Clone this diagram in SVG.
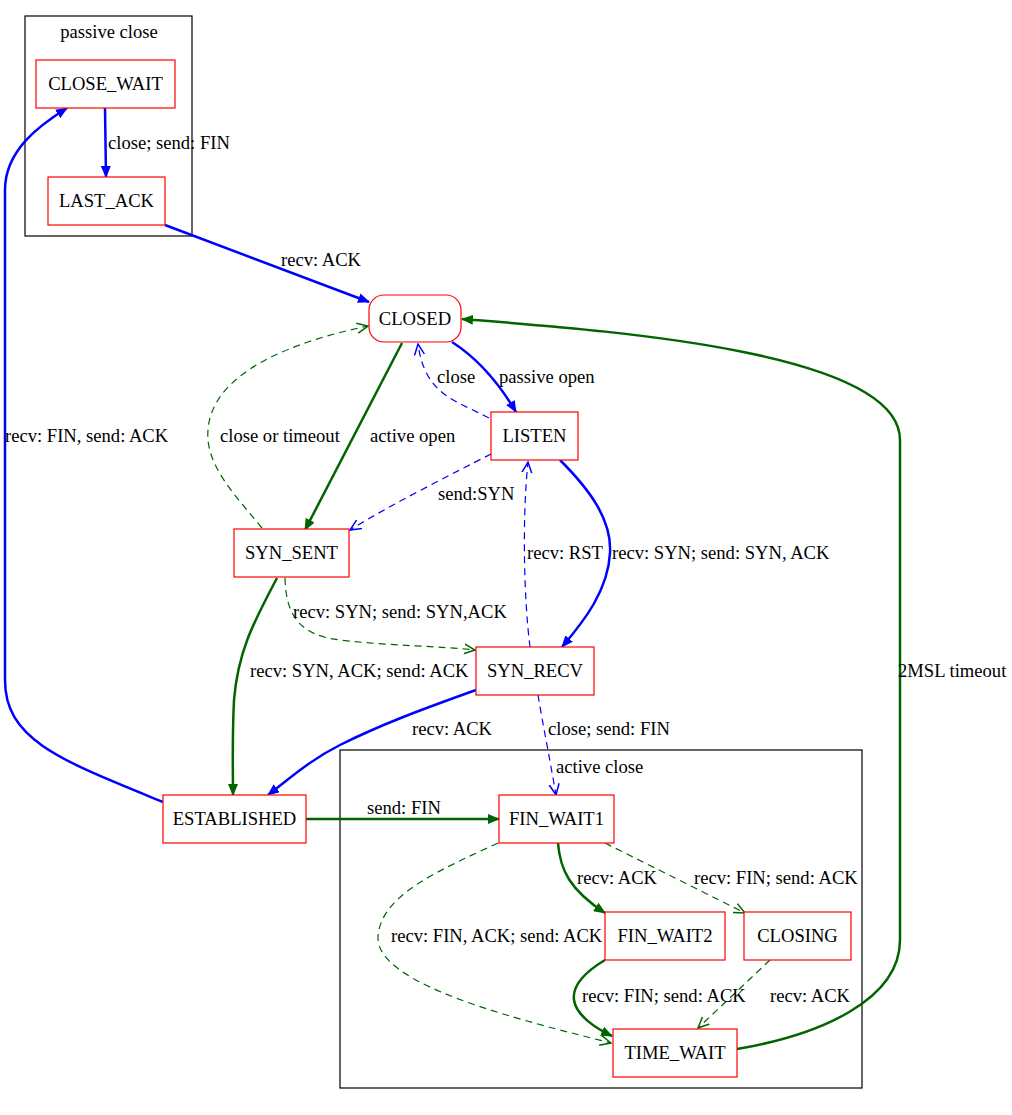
<svg xmlns="http://www.w3.org/2000/svg" width="1012" height="1115" viewBox="0 0 1012 1115" font-family="'Liberation Serif', 'Times New Roman', Times, serif">
<style>
text{font-family:"Liberation Serif","Times New Roman",Times,serif;font-size:18.6px;fill:#000}
.n{text-anchor:middle}
.node rect{fill:#fff;stroke:#ff0000;stroke-width:1.2}
.cl{fill:none;stroke:#000;stroke-width:1.2}
.e{fill:none}
.bb{stroke:#0000ff;stroke-width:2.5}
.gb{stroke:#006400;stroke-width:2.5}
.bd{stroke:#0000ff;stroke-width:1.2;stroke-dasharray:7,5}
.gd{stroke:#006400;stroke-width:1.2;stroke-dasharray:7,5}
</style>
<defs>
<marker id="ab" viewBox="0 0 12 10" refX="11" refY="5" markerWidth="12" markerHeight="10" markerUnits="userSpaceOnUse" orient="auto"><path d="M0,0 L12,5 L0,10 z" fill="#0000ff"/></marker>
<marker id="ag" viewBox="0 0 12 10" refX="11" refY="5" markerWidth="12" markerHeight="10" markerUnits="userSpaceOnUse" orient="auto"><path d="M0,0 L12,5 L0,10 z" fill="#006400"/></marker>
<marker id="ob" viewBox="0 0 12 12" refX="11" refY="6" markerWidth="12" markerHeight="12" markerUnits="userSpaceOnUse" orient="auto"><path d="M0,1 L11,6 L0,11" fill="none" stroke="#0000ff" stroke-width="1.5"/></marker>
<marker id="og" viewBox="0 0 12 12" refX="11" refY="6" markerWidth="12" markerHeight="12" markerUnits="userSpaceOnUse" orient="auto"><path d="M0,1 L11,6 L0,11" fill="none" stroke="#006400" stroke-width="1.5"/></marker>
</defs>
<rect width="1012" height="1115" fill="#fff"/>
<g id="cluster_passive">
<rect class="cl" x="25" y="16" width="167" height="220"/>
<text class="n" x="109" y="38">passive close</text>
</g>
<g id="cluster_active">
<rect class="cl" x="340" y="750" width="522" height="338"/>
<text x="556" y="773">active close</text>
</g>
<g id="edges">
<path class="e bb" d="M105,108 L106,177" marker-end="url(#ab)"/>
<path class="e bb" d="M165,225 L369,302" marker-end="url(#ab)"/>
<path class="e bb" d="M163,802 C60,760 5,740 5,680 L5,190 C5,150 40,125 67,108" marker-end="url(#ab)"/>
<path class="e bb" d="M452,342 C480,360 500,385 516,412" marker-end="url(#ab)"/>
<path class="e bd" d="M489,418 C455,400 425,395 418,344" marker-end="url(#ob)"/>
<path class="e gb" d="M402,343 L305,530" marker-end="url(#ag)"/>
<path class="e gd" d="M262,528 C235,495 205,465 208,430 C212,370 300,340 368,326" marker-end="url(#og)"/>
<path class="e bd" d="M491,454 C450,475 390,505 350,530" marker-end="url(#ob)"/>
<path class="e bb" d="M560,460 C590,490 612,520 610,553 C608,590 585,620 562,647" marker-end="url(#ab)"/>
<path class="e bd" d="M530,647 C524,600 522,520 528,462" marker-end="url(#ob)"/>
<path class="e gd" d="M285,578 C286,610 295,635 340,640 C390,646 440,646 475,650" marker-end="url(#og)"/>
<path class="e gb" d="M277,578 C255,620 238,650 234,700 C232,740 233,770 233,795" marker-end="url(#ag)"/>
<path class="e bb" d="M476,690 C420,710 380,725 340,745 C310,760 290,778 268,795" marker-end="url(#ab)"/>
<path class="e bd" d="M538,695 C543,725 550,760 556,795" marker-end="url(#ob)"/>
<path class="e gb" d="M306,819 L499,819" marker-end="url(#ag)"/>
<path class="e gb" d="M558,843 C560,870 570,890 605,913" marker-end="url(#ag)"/>
<path class="e gd" d="M605,843 L745,913" marker-end="url(#og)"/>
<path class="e gd" d="M498,843 C440,870 380,895 378,937 C376,985 520,1020 611,1043" marker-end="url(#og)"/>
<path class="e gb" d="M605,960 C585,972 572,985 574,1000 C576,1015 595,1028 612,1036" marker-end="url(#ag)"/>
<path class="e gd" d="M770,960 L698,1028" marker-end="url(#og)"/>
<path class="e gb" d="M737,1049 C820,1035 900,1000 900,940 L900,440 C900,350 600,330 462,319" marker-end="url(#ag)"/>
</g>
<g id="edge_labels">
<text x="108" y="149">close; send: FIN</text>
<text x="281" y="266">recv: ACK</text>
<text x="5" y="442">recv: FIN, send: ACK</text>
<text x="499" y="383">passive open</text>
<text x="437" y="383">close</text>
<text x="370" y="442">active open</text>
<text x="220" y="442">close or timeout</text>
<text x="438" y="500">send:SYN</text>
<text x="527" y="559">recv: RST</text>
<text x="612" y="559">recv: SYN; send: SYN, ACK</text>
<text x="293" y="618">recv: SYN; send: SYN,ACK</text>
<text x="250" y="677">recv: SYN, ACK; send: ACK</text>
<text x="412" y="735">recv: ACK</text>
<text x="548" y="735">close; send: FIN</text>
<text x="367" y="814">send: FIN</text>
<text x="577" y="884">recv: ACK</text>
<text x="694" y="884">recv: FIN; send: ACK</text>
<text x="391" y="942">recv: FIN, ACK; send: ACK</text>
<text x="582" y="1002">recv: FIN; send: ACK</text>
<text x="770" y="1002">recv: ACK</text>
<text x="898" y="677">2MSL timeout</text>
</g>
<g id="CLOSE_WAIT" class="node"><rect x="36" y="60" width="139" height="48"/><text class="n" x="105.5" y="90">CLOSE_WAIT</text></g>
<g id="LAST_ACK" class="node"><rect x="48" y="177" width="117" height="48"/><text class="n" x="106.5" y="207">LAST_ACK</text></g>
<g id="CLOSED" class="node"><rect x="369" y="295" width="92" height="47" rx="15"/><text class="n" x="415" y="325">CLOSED</text></g>
<g id="LISTEN" class="node"><rect x="491" y="412" width="87" height="48"/><text class="n" x="534.5" y="442">LISTEN</text></g>
<g id="SYN_SENT" class="node"><rect x="234" y="529" width="115" height="48"/><text class="n" x="291.5" y="559">SYN_SENT</text></g>
<g id="SYN_RECV" class="node"><rect x="476" y="647" width="118" height="48"/><text class="n" x="535" y="677">SYN_RECV</text></g>
<g id="ESTABLISHED" class="node"><rect x="163" y="795" width="143" height="48"/><text class="n" x="234.5" y="825">ESTABLISHED</text></g>
<g id="FIN_WAIT1" class="node"><rect x="499" y="795" width="115" height="48"/><text class="n" x="556.5" y="825">FIN_WAIT1</text></g>
<g id="FIN_WAIT2" class="node"><rect x="605" y="912" width="120" height="48"/><text class="n" x="665" y="942">FIN_WAIT2</text></g>
<g id="CLOSING" class="node"><rect x="744" y="912" width="107" height="48"/><text class="n" x="797.5" y="942">CLOSING</text></g>
<g id="TIME_WAIT" class="node"><rect x="613" y="1029" width="124" height="48"/><text class="n" x="675" y="1059">TIME_WAIT</text></g>
</svg>
